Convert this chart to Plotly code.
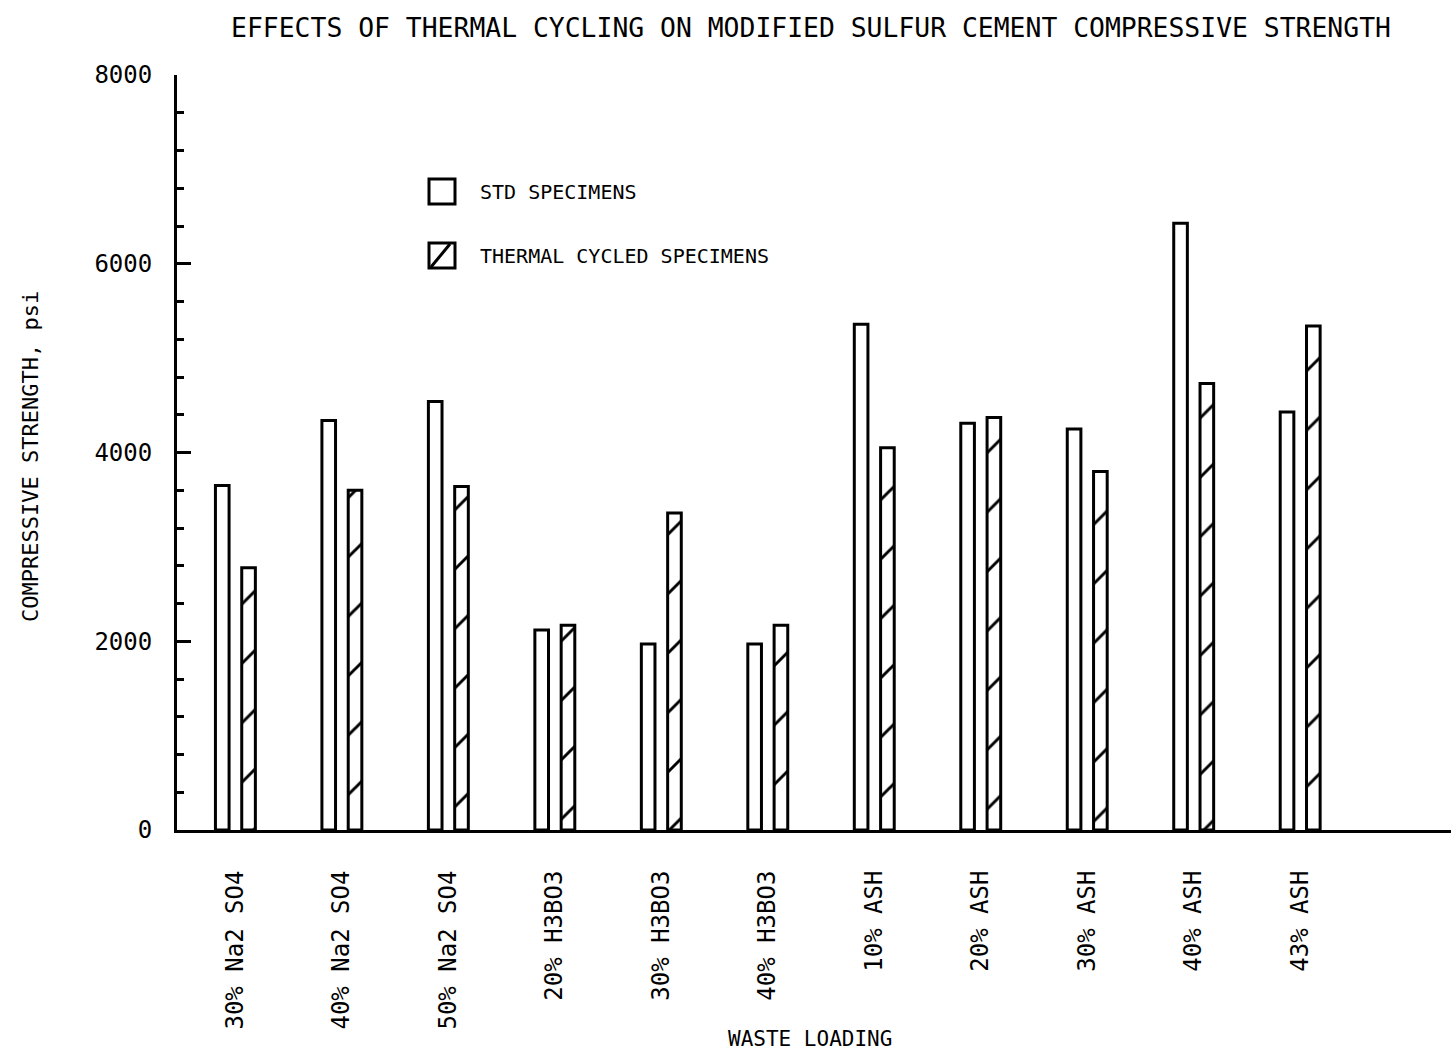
import plotly.graph_objects as go

# Waste loading categories and compressive strengths (psi)
categories = ["30% Na2 SO4", "40% Na2 SO4", "50% Na2 SO4",
              "20% H3BO3", "30% H3BO3", "40% H3BO3",
              "10% ASH", "20% ASH", "30% ASH", "40% ASH", "43% ASH"]
std_strength = [3650, 4340, 4540, 2120, 1970, 1970, 5360, 4310, 4250, 6430, 4430]
cycled_strength = [2780, 3600, 3640, 2170, 3360, 2170, 4050, 4370, 3800, 4730, 5340]

series_names = ["STD SPECIMENS", "THERMAL CYCLED SPECIMENS"]

MONO = "DejaVu Sans Mono, Liberation Mono, monospace"

fig = go.Figure()

fig.add_trace(go.Bar(
    x=categories, y=std_strength, name=series_names[0],
    width=0.128, offset=-0.184,
    marker=dict(color="white", line=dict(color="black", width=3)),
    showlegend=False,
))

fig.add_trace(go.Bar(
    x=categories, y=cycled_strength, name=series_names[1],
    width=0.128, offset=0.063,
    marker=dict(
        color="white",
        line=dict(color="black", width=3),
        pattern=dict(shape="/", size=42, solidity=0.07,
                     fgcolor="black", bgcolor="white", fillmode="replace"),
    ),
    showlegend=False,
))


# Pixel-to-paper helpers for the plot area (177..1451 x 75..830)
def px_x(v):
    return (v - 177) / 1274


def px_y(v):
    return (830 - v) / 755


# Legend boxes drawn as shapes
shapes = [
    dict(type="rect", xref="paper", yref="paper",
         x0=px_x(429), x1=px_x(455), y0=px_y(204), y1=px_y(179),
         line=dict(color="black", width=3), fillcolor="white"),
    dict(type="rect", xref="paper", yref="paper",
         x0=px_x(429), x1=px_x(455), y0=px_y(268), y1=px_y(243),
         line=dict(color="black", width=3), fillcolor="white"),
    dict(type="line", xref="paper", yref="paper",
         x0=px_x(431), x1=px_x(450), y0=px_y(267), y1=px_y(244),
         line=dict(color="black", width=3)),
]

annotations = [
    dict(text=series_names[0], xref="paper", yref="paper",
         x=px_x(478), y=px_y(192), xanchor="left", yanchor="middle",
         showarrow=False, font=dict(family=MONO, size=20, color="black")),
    dict(text=series_names[1], xref="paper", yref="paper",
         x=px_x(478), y=px_y(256), xanchor="left", yanchor="middle",
         showarrow=False, font=dict(family=MONO, size=20, color="black")),
    dict(text="COMPRESSIVE STRENGTH, psi", xref="paper", yref="paper",
         x=px_x(30), y=px_y(457), xanchor="center", yanchor="middle",
         textangle=-90, showarrow=False,
         font=dict(family=MONO, size=22, color="black")),
    dict(text="WASTE LOADING", xref="paper", yref="paper",
         x=px_x(810), y=px_y(1039), xanchor="center", yanchor="middle",
         showarrow=False, font=dict(family=MONO, size=21, color="black")),
]

fig.update_layout(
    width=1451, height=1058,
    margin=dict(l=177, r=0, t=75, b=228, pad=0),
    paper_bgcolor="white", plot_bgcolor="white",
    barmode="overlay",
    title=dict(
        text="EFFECTS OF THERMAL CYCLING ON MODIFIED SULFUR CEMENT COMPRESSIVE STRENGTH",
        x=811 / 1451, xanchor="center",
        y=1 - 28 / 1058, yanchor="middle",
        font=dict(family=MONO, size=26.4, color="black"),
    ),
    shapes=shapes,
    annotations=annotations,
    font=dict(family=MONO, color="black"),
)

fig.update_xaxes(
    type="category", range=[-0.545, 11.42],
    showline=True, linewidth=3, linecolor="black",
    showgrid=False, zeroline=False, ticks="",
    tickangle=-90, ticklabelstandoff=28,
    tickfont=dict(family=MONO, size=24, color="black"),
)

fig.update_yaxes(
    range=[0, 8000], tickvals=[0, 2000, 4000, 6000, 8000],
    showline=True, linewidth=3, linecolor="black",
    showgrid=False, zeroline=False,
    ticks="inside", ticklen=14, tickwidth=3, tickcolor="black",
    minor=dict(dtick=400, ticks="inside", ticklen=7, tickwidth=3,
               tickcolor="black", showgrid=False),
    ticklabelstandoff=17,
    tickfont=dict(family=MONO, size=24, color="black"),
)

fig.write_html("out.html")
